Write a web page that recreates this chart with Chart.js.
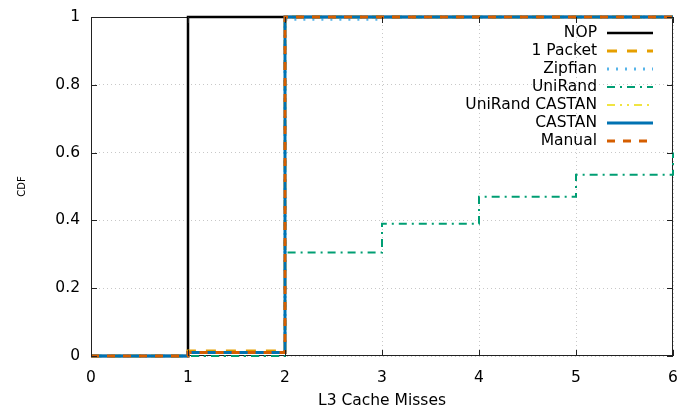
<!DOCTYPE html>
<html><head><meta charset="utf-8">
<script src="https://cdn.jsdelivr.net/npm/chart.js@4.4.1/dist/chart.umd.min.js"></script>
<style>html,body{margin:0;padding:0;background:#fff}#wrap{width:679px;height:412px}</style>
</head><body><div id="wrap"><canvas id="c" width="679" height="412"></canvas></div>
<script>
// Step-function CDF values; each value holds on [x, next x)
const xPoints = [0, 1, 2, 3, 4, 5, 6];
const nop = [0, 1, 1, 1, 1, 1, 1];
const onePacket = [0, 0.015, 1, 1, 1, 1, 1];
const zipfian = [0, 0.01, 0.993, 1, 1, 1, 1];
const uniRand = [0, 0, 0.305, 0.39, 0.47, 0.535, 0.6];
const uniRandCastan = [0, 0.01, 1, 1, 1, 1, 1];
const castan = [0, 0.01, 1, 1, 1, 1, 1];
const manual = [0, 0.01, 1, 1, 1, 1, 1];
const xTickLabels = ['0', '1', '2', '3', '4', '5', '6'];
const yTickLabels = ['0', '0.2', '0.4', '0.6', '0.8', '1'];
const seriesNames = ['NOP', '1 Packet', 'Zipfian', 'UniRand', 'UniRand CASTAN', 'CASTAN', 'Manual'];

const FONT = '"DejaVu Sans", sans-serif';
const FS = 15.5;
const mk = (arr) => xPoints.map((x, i) => ({x: x, y: arr[i]}));
const styles = [
  {c: '#000000', w: 2.5, d: []},
  {c: '#E69F00', w: 3, d: [10, 10]},
  {c: '#56B4E9', w: 3, d: [2, 7]},
  {c: '#009E73', w: 2, d: [8, 5, 2, 5]},
  {c: '#F0E442', w: 2, d: [8, 5, 2, 5, 2, 5]},
  {c: '#0072B2', w: 3, d: []},
  {c: '#D55E00', w: 3, d: [8, 8]}
];
const values = [nop, onePacket, zipfian, uniRand, uniRandCastan, castan, manual];
const datasets = values.map((v, i) => ({
  label: seriesNames[i], data: mk(v), stepped: 'before',
  borderColor: styles[i].c, borderWidth: styles[i].w, borderDash: styles[i].d,
  pointRadius: 0, fill: false, order: 10 - i, borderCapStyle: 'butt', clip: 3
}));

const frame = {
  id: 'frame',
  afterDraw(chart) {
    const {ctx, chartArea: a, scales} = chart;
    ctx.save();
    ctx.strokeStyle = '#222'; ctx.lineWidth = 1;
    ctx.beginPath();
    const tl = 6;
    xPoints.forEach(x => {
      const px = Math.round(scales.x.getPixelForValue(x)) + 0.5;
      ctx.moveTo(px, a.bottom); ctx.lineTo(px, a.bottom - tl);
      ctx.moveTo(px, a.top); ctx.lineTo(px, a.top + tl);
    });
    yTickLabels.forEach(t => {
      const py = Math.round(scales.y.getPixelForValue(parseFloat(t))) + 0.5;
      ctx.moveTo(a.left, py); ctx.lineTo(a.left + tl, py);
      ctx.moveTo(a.right, py); ctx.lineTo(a.right - tl, py);
    });
    ctx.stroke();
    // legend
    ctx.font = FS + 'px ' + FONT; ctx.textAlign = 'right'; ctx.textBaseline = 'middle';
    seriesNames.forEach((n, i) => {
      const y = 33 + i * 18;
      ctx.fillStyle = '#000'; ctx.fillText(n, 597, y);
      ctx.beginPath(); ctx.setLineDash(styles[i].d);
      ctx.strokeStyle = styles[i].c; ctx.lineWidth = styles[i].w;
      ctx.moveTo(607, y); ctx.lineTo(653, y); ctx.stroke();
    });
    ctx.restore();
  },
  beforeDatasetsDraw(chart) {
    const {ctx, chartArea: a} = chart;
    ctx.save();
    ctx.strokeStyle = '#222'; ctx.lineWidth = 1;
    ctx.strokeRect(a.left + 0.5, a.top + 0.5, a.right - a.left - 1, a.bottom - a.top - 1);
    ctx.restore();
  }
};

new Chart(document.getElementById('c'), {
  type: 'line',
  data: {datasets},
  options: {
    responsive: false, animation: false, devicePixelRatio: 1,
    layout: {padding: {left: 0, right: 6, top: 17, bottom: 0}},
    plugins: {legend: {display: false}, tooltip: {enabled: false}},
    scales: {
      x: {
        type: 'linear', min: 0, max: 6,
        afterFit(s) { s.height = 56; s.paddingLeft = 0; s.paddingRight = 0; },
        grid: {color: '#c8c8c8', drawTicks: false},
        border: {display: false, dash: [1, 3]},
        ticks: {stepSize: 1, padding: 13, color: '#000', font: {family: FONT, size: FS},
          callback: (v) => xTickLabels[v] !== undefined ? xTickLabels[v] : ''},
        title: {display: true, text: 'L3 Cache Misses', color: '#000', font: {family: FONT, size: FS}, padding: {top: 0, bottom: 2}}
      },
      y: {
        type: 'linear', min: 0, max: 1,
        afterFit(s) { s.width = 91; s.paddingTop = 0; s.paddingBottom = 0; },
        grid: {color: '#c8c8c8', drawTicks: false},
        border: {display: false, dash: [1, 3]},
        ticks: {stepSize: 0.2, padding: 11, color: '#000', font: {family: FONT, size: FS},
          callback: (v) => { const i = Math.round(v * 5); return yTickLabels[i] !== undefined ? yTickLabels[i] : ''; }},
        title: {display: true, text: 'CDF', color: '#000', font: {family: FONT, size: 10}, padding: {top: 16, bottom: 0}}
      }
    }
  },
  plugins: [frame]
});
</script></body></html>
